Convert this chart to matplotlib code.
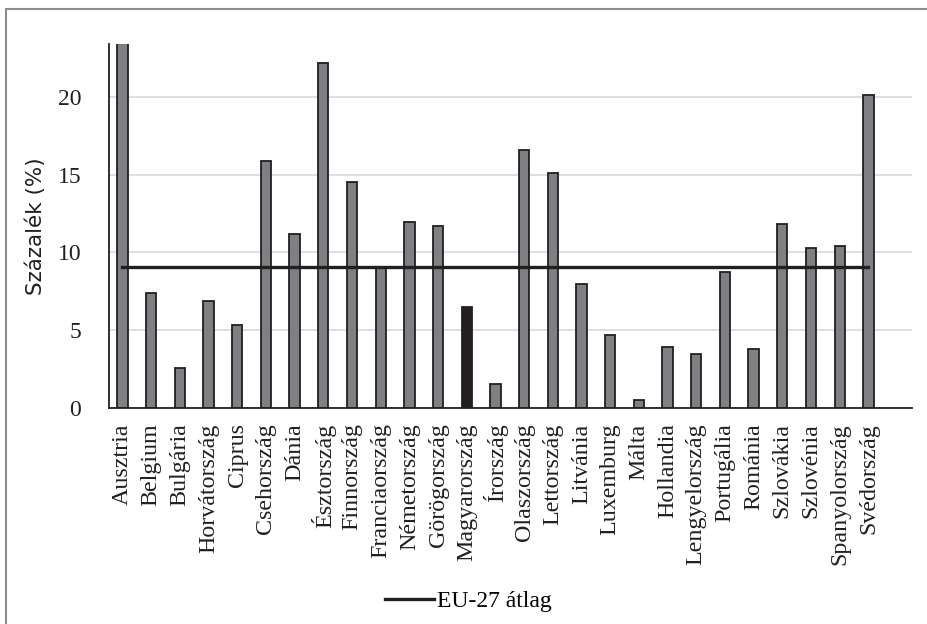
import matplotlib
matplotlib.use("Agg")
import matplotlib.pyplot as plt
from matplotlib.patches import Rectangle

# values (Százalék, %)
countries = ["Ausztria", "Belgium", "Bulgária", "Horvátország", "Ciprus",
             "Csehország", "Dánia", "Észtország", "Finnország", "Franciaország",
             "Németország", "Görögország", "Magyarország", "Írország",
             "Olaszország", "Lettország", "Litvánia", "Luxemburg", "Málta",
             "Hollandia", "Lengyelország", "Portugália", "Románia", "Szlovákia",
             "Szlovénia", "Spanyolország", "Svédország"]
values = [25.0, 7.4, 2.55, 6.85, 5.35, 15.85, 11.2, 22.2, 14.5, 9.05,
          11.95, 11.7, 6.5, 1.55, 16.6, 15.1, 8.0, 4.7, 0.5, 3.95,
          3.45, 8.75, 3.8, 11.8, 10.3, 10.4, 20.15]
eu_avg = 9.07
highlight = "Magyarország"
yticks = [0, 5, 10, 15, 20]

serif = "Liberation Serif"
sans = "DejaVu Sans"

fig = plt.figure(figsize=(9.27, 6.24), dpi=100)
ax = fig.add_axes([109/927, 1 - 408/624, (912 - 109)/927, (408 - 44)/624])

x = list(range(len(countries)))
colors = ["#231f20" if c == highlight else "#808084" for c in countries]
ax.bar(x, values, width=0.36, color=colors, edgecolor="#231f20", linewidth=1.3, zorder=2)
ax.plot(x, [eu_avg] * len(x), color="#231f20", linewidth=2.4, zorder=3, label="EU-27 átlag")

ax.set_xlim(-0.47, 27.52)
ax.set_ylim(0, 23.4)
ax.set_yticks(yticks)
ax.yaxis.grid(True, color="#d9d9d9", linewidth=1.2, zorder=0)
ax.set_axisbelow(True)

for s in ["top", "right"]:
    ax.spines[s].set_visible(False)
ax.spines["left"].set_color("#231f20")
ax.spines["bottom"].set_color("#231f20")
ax.spines["left"].set_linewidth(1.3)
ax.spines["bottom"].set_linewidth(1.3)

ax.set_xticks(x)
ax.set_xticklabels(countries, rotation=90)
ax.tick_params(axis="x", length=0, pad=11, labelsize=17.3, labelcolor="#231f20",
               labelfontfamily=serif)
ax.tick_params(axis="y", length=0, pad=20, labelsize=17, labelcolor="#231f20",
               labelfontfamily=serif)

ax.set_ylabel("Százalék (%)", fontsize=15.5, family=sans, color="#231f20", labelpad=8)

ax.legend(loc="center", bbox_to_anchor=(468/927, 1 - 601/624), bbox_transform=fig.transFigure,
          frameon=False, handlelength=2.1, handletextpad=0.1,
          prop={"family": serif, "size": 17})

# outer frame of the figure
fig.add_artist(Rectangle((6/927, -0.1), 1.2, 1 - 9/624 + 0.1, transform=fig.transFigure,
                         fill=False, edgecolor="#8c8c8c", linewidth=1.5))

plt.savefig("out.png", dpi=100)
